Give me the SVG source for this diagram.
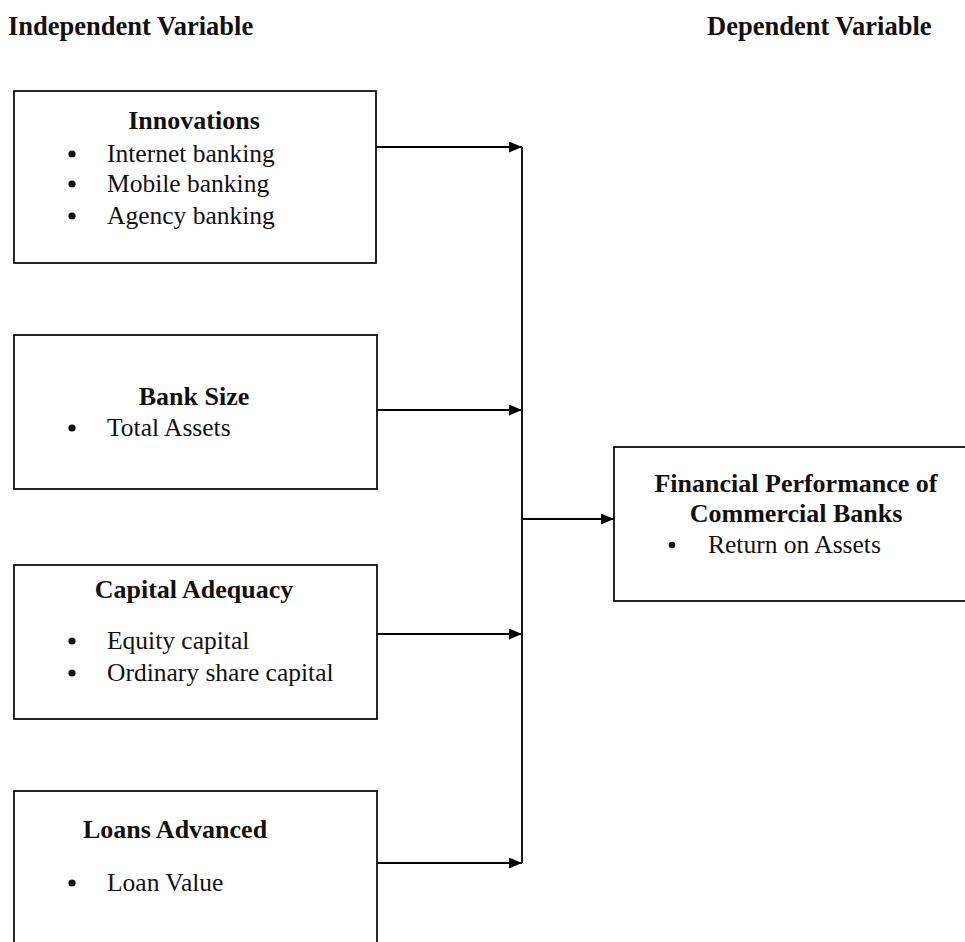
<svg xmlns="http://www.w3.org/2000/svg" width="965" height="942" viewBox="0 0 965 942">
<style>
  .box { fill: #fff; stroke: #000; stroke-width: 1.7; }
  .t { font-family: "Liberation Serif", "Times New Roman", serif; font-size: 25.5px; fill: #111; }
  .b { font-weight: bold; font-size: 26px; }
  .h { font-weight: bold; font-size: 26.5px; }
  .dot { fill: #111; }
  .c { text-anchor: middle; }
  .conn { stroke: #000; stroke-width: 1.8; fill: none; }
</style>
<defs>
  <marker id="ah" markerWidth="13" markerHeight="11" refX="13" refY="5.5" orient="auto" markerUnits="userSpaceOnUse">
    <path d="M0,0 L13,5.5 L0,11 Z" fill="#000"/>
  </marker>
</defs>
<rect width="965" height="942" fill="#fff"/>
<text class="t h" x="8" y="35">Independent Variable</text>
<text class="t h" x="707" y="35">Dependent Variable</text>

<g id="innovations">
  <rect class="box" x="14" y="91" width="362" height="172"/>
  <text class="t b c" x="194" y="129">Innovations</text>
  <circle class="dot" cx="72" cy="154" r="3.6"/><text class="t" x="107" y="162">Internet banking</text>
  <circle class="dot" cx="72" cy="184" r="3.6"/><text class="t" x="107" y="192">Mobile banking</text>
  <circle class="dot" cx="72" cy="216" r="3.6"/><text class="t" x="107" y="224">Agency banking</text>
</g>
<g id="bank-size">
  <rect class="box" x="14" y="335" width="363" height="154"/>
  <text class="t b c" x="194" y="405">Bank Size</text>
  <circle class="dot" cx="72" cy="428" r="3.6"/><text class="t" x="107" y="436">Total Assets</text>
</g>
<g id="capital-adequacy">
  <rect class="box" x="14" y="565" width="363" height="154"/>
  <text class="t b c" x="194" y="598">Capital Adequacy</text>
  <circle class="dot" cx="72" cy="641" r="3.6"/><text class="t" x="107" y="649">Equity capital</text>
  <circle class="dot" cx="72" cy="673" r="3.6"/><text class="t" x="107" y="681">Ordinary share capital</text>
</g>
<g id="loans-advanced">
  <rect class="box" x="14" y="791" width="363" height="170"/>
  <text class="t b c" x="175" y="838">Loans Advanced</text>
  <circle class="dot" cx="72" cy="883" r="3.6"/><text class="t" x="107" y="891">Loan Value</text>
</g>
<g id="financial-performance">
  <rect class="box" x="614" y="447" width="360" height="154"/>
  <text class="t b c" x="796" y="492">Financial Performance of</text>
  <text class="t b c" x="796" y="522">Commercial Banks</text>
  <circle class="dot" cx="672" cy="545" r="3.3"/><text class="t" x="708" y="553">Return on Assets</text>
</g>

<g id="connectors">
  <line class="conn" x1="522" y1="147" x2="522" y2="863"/>
  <line class="conn" x1="376" y1="147" x2="522" y2="147" marker-end="url(#ah)"/>
  <line class="conn" x1="377" y1="410" x2="522" y2="410" marker-end="url(#ah)"/>
  <line class="conn" x1="377" y1="634" x2="522" y2="634" marker-end="url(#ah)"/>
  <line class="conn" x1="377" y1="863" x2="522" y2="863" marker-end="url(#ah)"/>
  <line class="conn" x1="522" y1="519" x2="614" y2="519" marker-end="url(#ah)"/>
</g>
</svg>
